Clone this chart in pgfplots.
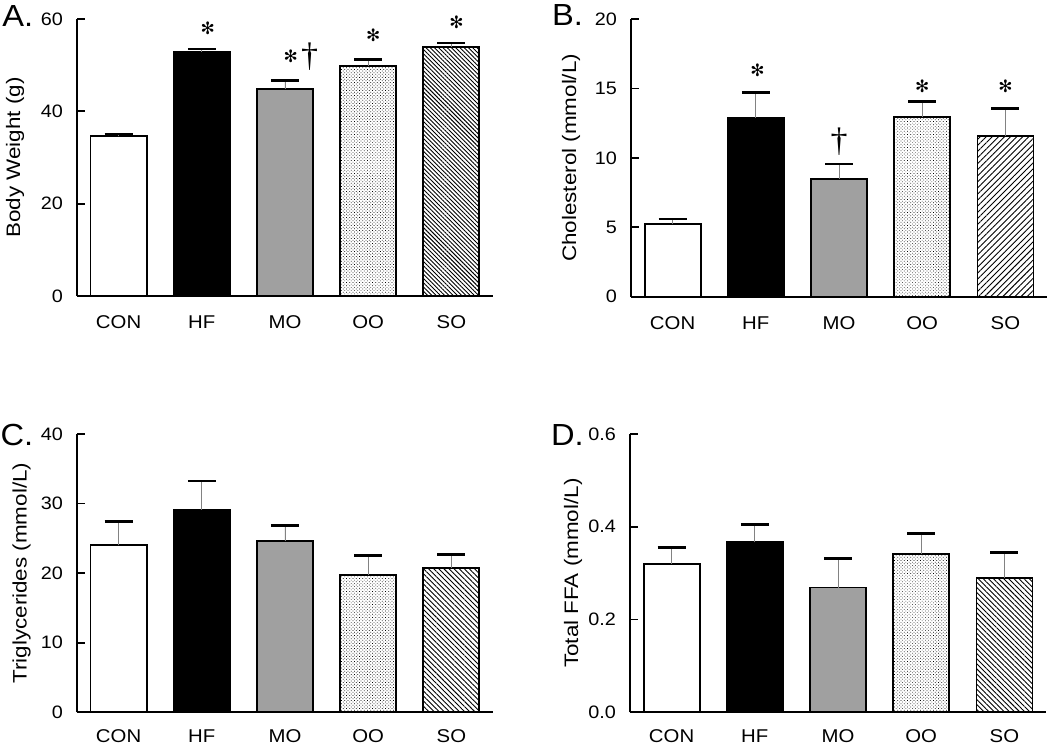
\documentclass[border=0pt]{standalone}
\usepackage{fontspec}
\setmainfont{Liberation Sans}
\newfontfamily\tickfont[FakeStretch=1.1]{Liberation Sans}
\newfontfamily\labfont[FakeStretch=1.15]{Liberation Sans}
\newfontfamily\panfont[FakeStretch=1.07]{Liberation Sans}
\newfontfamily\dagfont{Liberation Serif}
\newfontfamily\symfont{DejaVu Sans}
\usepackage{pgfplots}
\pgfplotsset{compat=1.18}
\usetikzlibrary{patterns.meta}
\definecolor{mogray}{RGB}{160,160,160}
\definecolor{errgray}{RGB}{130,130,130}
\newcommand\astsym{\symfont\fontsize{17}{17}\selectfont ✻}
\newcommand\dagsym{\dagfont\fontsize{34}{34}\selectfont †}
\pgfplotsset{
  panel/.style={
    scale only axis, width=416pt, anchor=south west,
    xmin=-0.5, xmax=4.5, ymin=0,
    enlargelimits=false, clip=false,
    axis lines=left, axis line style={-, line width=1.8pt, black},
    xtick={0,1,2,3,4}, xticklabels={CON,HF,MO,OO,SO},
    x tick style={draw=none},
    tick align=inside, major tick length=8pt,
    y tick style={line width=1.8pt, black},
    /pgf/number format/assume math mode=true,
    yticklabel style={font=\tickfont\fontsize{18}{20}\selectfont, anchor=east, inner sep=0pt, xshift=-14pt},
    xticklabel style={font=\tickfont\fontsize{18.5}{20}\selectfont, anchor=base, inner sep=0pt, yshift=-24.5pt},
    ylabel style={font=\labfont\fontsize{19.5}{22}\selectfont, anchor=center},
    ybar, bar width=56pt,
    error bars/y dir=plus, error bars/y explicit,
    error bars/error bar style={line width=0.9pt, errgray, solid},
    error bars/error mark options={rotate=90, line width=2.7pt, black, mark size=14pt, solid},
  },
  bcon/.style={fill=white, draw=black, line width=1.8pt, bar shift=0pt},
  bhf/.style={fill=black, draw=black, line width=1.8pt, bar shift=0pt},
  bmo/.style={fill=mogray, draw=black, line width=1.8pt, bar shift=0pt},
  boo/.style={draw=black, line width=1.8pt, bar shift=0pt, pattern={Dots[distance=2.3pt, radius=0.5pt, angle=45]}, pattern color=black},
  bso/.style={draw=black, line width=1.8pt, bar shift=0pt, pattern color=black},
}
\begin{document}
\begin{tikzpicture}
\path[use as bounding box] (0,0) rectangle (1050pt,746pt);
% ---------- A ----------
\begin{axis}[panel, at={(77pt,450pt)}, height=277pt, ymax=60, ytick={0,20,40,60},
  ylabel={Body Weight (g)}, ylabel style={at={(axis description cs:-0.149,0.5)}}]
\addplot[bcon] coordinates {(0,34.6) +- (0,0.5)};
\addplot[bhf] coordinates {(1,52.8) +- (0,0.7)};
\addplot[bmo] coordinates {(2,44.9) +- (0,1.8)};
\addplot[boo] coordinates {(3,49.9) +- (0,1.3)};
\addplot[bso, pattern={Lines[angle=-45, distance=3.0pt, line width=0.9pt]}] coordinates {(4,54.0) +- (0,0.8)};
\node at (axis cs:1.07,57.9) {\astsym};
\node at (axis cs:2.07,51.85) {\astsym};
\node at (axis cs:2.295,51.85) {\dagsym};
\node at (axis cs:3.06,56.4) {\astsym};
\node at (axis cs:4.06,59.3) {\astsym};
\node[anchor=base west, inner sep=0pt, font=\panfont\fontsize{30.5}{32}\selectfont] at (axis description cs:-0.18,0.972) {A.};
\end{axis}
% ---------- B ----------
\begin{axis}[panel, at={(631pt,449.3pt)}, height=277.7pt, ymax=20, ytick={0,5,10,15,20},
  ylabel={Cholesterol (mmol/L)}, ylabel style={at={(axis description cs:-0.144,0.5)}}]
\addplot[bcon] coordinates {(0,5.23) +- (0,0.36)};
\addplot[bhf] coordinates {(1,12.89) +- (0,1.83)};
\addplot[bmo] coordinates {(2,8.48) +- (0,1.08)};
\addplot[boo] coordinates {(3,12.97) +- (0,1.08)};
\addplot[bso, pattern={Lines[angle=45, distance=4.3pt, line width=0.9pt]}] coordinates {(4,11.57) +- (0,2.0)};
\node at (axis cs:1.02,16.28) {\astsym};
\node at (axis cs:2.0,11.16) {\dagsym};
\node at (axis cs:3.0,15.17) {\astsym};
\node at (axis cs:4.0,15.17) {\astsym};
\node[anchor=base west, inner sep=0pt, font=\panfont\fontsize{30.5}{32}\selectfont] at (axis description cs:-0.19,0.975) {B.};
\end{axis}
% ---------- C ----------
\begin{axis}[panel, at={(77pt,33.7pt)}, height=278.3pt, ymax=40, ytick={0,10,20,30,40},
  xticklabel style={yshift=2.5pt},
  ylabel={Triglycerides (mmol/L)}, ylabel style={at={(axis description cs:-0.133,0.5)}}]
\addplot[bcon] coordinates {(0,24.0) +- (0,3.45)};
\addplot[bhf] coordinates {(1,29.08) +- (0,4.17)};
\addplot[bmo] coordinates {(2,24.67) +- (0,2.2)};
\addplot[boo] coordinates {(3,19.74) +- (0,2.77)};
\addplot[bso, pattern={Lines[angle=-45, distance=3.6pt, line width=0.9pt]}] coordinates {(4,20.79) +- (0,1.87)};
\node[anchor=base west, inner sep=0pt, font=\panfont\fontsize{30.5}{32}\selectfont] at (axis description cs:-0.184,0.96) {C.};
\end{axis}
% ---------- D ----------
\begin{axis}[panel, at={(630pt,33.7pt)}, height=278.3pt, ymax=0.6, ytick={0,0.2,0.4,0.6},
  xticklabel style={yshift=2.5pt},
  yticklabel style={/pgf/number format/.cd, fixed, fixed zerofill, precision=1},
  ylabel={Total FFA (mmol/L)}, ylabel style={at={(axis description cs:-0.137,0.5)}}]
\addplot[bcon] coordinates {(0,0.3205) +- (0,0.035)};
\addplot[bhf] coordinates {(1,0.3665) +- (0,0.0385)};
\addplot[bmo] coordinates {(2,0.269) +- (0,0.062)};
\addplot[boo] coordinates {(3,0.341) +- (0,0.044)};
\addplot[bso, pattern={Lines[angle=-45, distance=3.6pt, line width=0.9pt]}] coordinates {(4,0.290) +- (0,0.054)};
\node[anchor=base west, inner sep=0pt, font=\panfont\fontsize{30.5}{32}\selectfont] at (axis description cs:-0.19,0.96) {D.};
\end{axis}
\end{tikzpicture}
\end{document}
